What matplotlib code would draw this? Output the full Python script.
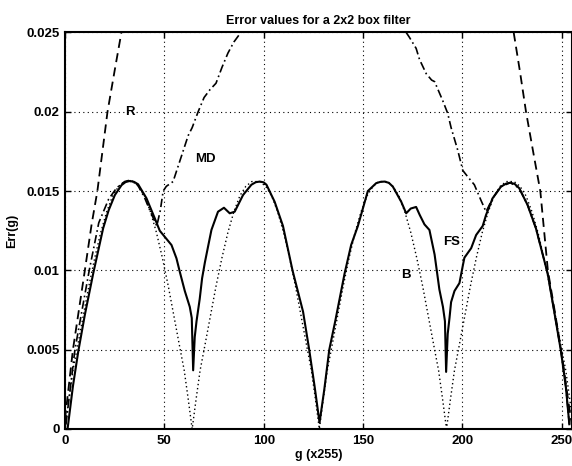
import numpy as np
import matplotlib
matplotlib.use("Agg")
import matplotlib.pyplot as plt

nan = np.nan

# FS curve (solid)
fs_g = [1.3, 4, 6.7, 10, 14.2, 19.2, 22, 25.1, 28.5, 30.5, 32.7, 34.8, 36.8, 41, 45.2, 47.7, 50,
        53.6, 56.1, 57.8, 60.3, 62.8, 63.8, 64.5, 65.3, 66.2, 67.8, 69, 70.4, 72, 73.7,
        77, 80, 82.9, 85.4, 89.6, 93.8, 96, 98, 100, 101.4, 105.5, 109.7, 114.5, 119.8, 122.9,
        125.6, 128.1, 130.5, 133, 136, 140.7, 144, 147.4, 152.4, 156.6, 158.7, 160.8, 163, 165,
        169.2, 171.7, 174, 176.7, 178.5, 180.9, 183.4, 186, 188.4, 190.2, 191.2, 191.8,
        192.6, 193.5, 194.3, 196, 198.5, 200.2, 201, 204.4, 206.9, 210.2, 211.9, 215.2,
        219.4, 222, 224.1, 226.3, 228.6, 232.8, 237, 240, 242.9, 246.2, 249.6, 252.1, 253.8]
fs_v = [0.0, 0.0027, 0.0049, 0.0072, 0.0098, 0.01265, 0.0138, 0.01475, 0.01538, 0.01557, 0.01564,
        0.01558, 0.01543, 0.01455, 0.01328, 0.0125, 0.01215, 0.0116, 0.01076, 0.0099, 0.0087,
        0.0077, 0.0070, 0.0037, 0.0058, 0.0068, 0.0082, 0.0095, 0.0105, 0.0115, 0.01255,
        0.0137, 0.01395, 0.0136, 0.0137, 0.01475, 0.0154, 0.01556, 0.0156, 0.01555, 0.0154,
        0.01433, 0.0128, 0.0100, 0.0074, 0.0050, 0.0027, 0.0004, 0.0025, 0.0050, 0.0068,
        0.0098, 0.0116, 0.0128, 0.0150, 0.0155, 0.01558, 0.0156, 0.01552, 0.01528, 0.01433,
        0.0136, 0.0139, 0.0140, 0.0135, 0.0129, 0.01255, 0.0110, 0.0088, 0.0077, 0.0068,
        0.0036, 0.0060, 0.0070, 0.0080, 0.0087, 0.0092, 0.0103, 0.0108, 0.0114, 0.01223,
        0.0128, 0.0135, 0.01455, 0.01528, 0.01547, 0.01553, 0.01545, 0.01518, 0.01412,
        0.01265, 0.0112, 0.0098, 0.0074, 0.0049, 0.0026, 0.0003]

# MD curve (dash-dot), leaves the top of the axes in the middle
md_g = [0.5, 5, 12.2, 17, 22, 26, 30, 33, 36.5, 40, 43, 46.2, 48, 49.4, 51, 54.4, 58.6,
        62, 64, 67, 70, 73, 76, 79, 82, 85, 88.5, nan,
        171.7, 173.3, 176.7, 178.4, 181.8, 184.5, 186, 190.1, 192.6, 194.3, 197.6, 200.2,
        202.7, 206, 209.4, 211.9, 215.2, 219.4, 224.1, 228.6, 232.8, 237, 240, 242.9,
        246.2, 249.6, 252.1, 253.8]
md_v = [0.0003, 0.0050, 0.0100, 0.0130, 0.0145, 0.0152, 0.0156, 0.0157, 0.0154, 0.0146,
        0.0137, 0.0128, 0.0138, 0.0150, 0.0153, 0.0156, 0.0172, 0.0185, 0.0190, 0.0200,
        0.0209, 0.0214, 0.0218, 0.0228, 0.0237, 0.0244, 0.0250, nan,
        0.0250, 0.0247, 0.0240, 0.0233, 0.0224, 0.0220, 0.0219, 0.0207, 0.0199, 0.0190,
        0.0176, 0.0163, 0.0159, 0.0154, 0.0144, 0.0137, 0.01455, 0.01528, 0.01553,
        0.01518, 0.01412, 0.01265, 0.0112, 0.0098, 0.0074, 0.0049, 0.0026, 0.0003]

# R curve (dashed)
r_g = [0, 4, 10, 13.4, 16.3, 21.4, 25, 28.4, nan,
       225.8, 229, 232, 236, 239.2, 243, 246.5, 250, 253, 255]
r_v = [0.0006, 0.0050, 0.0100, 0.0129, 0.0150, 0.0200, 0.0226, 0.0250, nan,
       0.0250, 0.0225, 0.0200, 0.0172, 0.0150, 0.0100, 0.0074, 0.0047, 0.0020, 0.0003]

# B curve (dotted)
b_g = [0, 2, 4, 6, 9, 12, 15, 18, 21, 24, 27, 30, 32, 34, 37, 40, 43, 46, 49, 52, 55, 58, 60, 62,
       64, 66, 68, 70, 73, 76, 79, 82, 85, 88, 91, 94, 96, 98, 101, 104, 107, 110, 113, 116, 119, 122, 124, 126,
       128, 130, 132, 134, 137, 140, 143, 146, 149, 152, 155, 158, 160, 162, 165, 168, 171, 174, 177, 180, 183, 186, 188, 190,
       192, 194, 196, 198, 201, 204, 207, 210, 213, 216, 219, 222, 224, 226, 229, 232, 235, 238, 241, 244, 247, 250, 252, 254, 255]
b_v = [0, 0.0019, 0.0037, 0.0050, 0.0070, 0.0090, 0.0108, 0.0124, 0.0137, 0.0147, 0.0153, 0.0156,
       0.0156, 0.0156, 0.0153, 0.0147, 0.0137, 0.0124, 0.0108, 0.0090, 0.0070, 0.0050, 0.0037, 0.0019,
       0, 0.0019, 0.0037, 0.0050, 0.0070, 0.0090, 0.0108, 0.0124, 0.0137, 0.0147, 0.0153, 0.0156,
       0.0156, 0.0156, 0.0153, 0.0147, 0.0137, 0.0124, 0.0108, 0.0090, 0.0070, 0.0050, 0.0037, 0.0019,
       0, 0.0019, 0.0037, 0.0050, 0.0070, 0.0090, 0.0108, 0.0124, 0.0137, 0.0147, 0.0153, 0.0156,
       0.0156, 0.0156, 0.0153, 0.0147, 0.0137, 0.0124, 0.0108, 0.0090, 0.0070, 0.0050, 0.0037, 0.0019,
       0, 0.0019, 0.0037, 0.0050, 0.0070, 0.0090, 0.0108, 0.0124, 0.0137, 0.0147, 0.0153, 0.0156,
       0.0156, 0.0156, 0.0153, 0.0147, 0.0137, 0.0124, 0.0108, 0.0090, 0.0070, 0.0050, 0.0037, 0.0019, 0.0009]

x_ticks = [0, 50, 100, 150, 200, 250]
y_ticks = [0, 0.005, 0.01, 0.015, 0.02, 0.025]
y_tick_labels = ["0", "0.005", "0.01", "0.015", "0.02", "0.025"]

plt.rcParams['font.family'] = ['Liberation Sans', 'DejaVu Sans']
plt.rcParams['font.weight'] = 'bold'

fig = plt.figure(figsize=(5.72, 4.66), dpi=100)
ax = fig.add_axes([0.1136, 0.0794, 0.8859, 0.8509])

ax.plot(b_g, b_v, color='black', linestyle=(0, (1, 2)), linewidth=1.0)
ax.plot(r_g, r_v, color='black', linestyle=(0, (5, 3)), linewidth=1.3)
ax.plot(md_g, md_v, color='black', linestyle=(0, (5, 2, 1, 2)), linewidth=1.2)
ax.plot(fs_g, fs_v, color='black', linestyle='-', linewidth=1.5)

ax.text(32.5, 0.0200, "R", ha='center', va='center', fontsize=9.5, fontweight='bold')
ax.text(70.4, 0.0170, "MD", ha='center', va='center', fontsize=9.5, fontweight='bold')
ax.text(194.3, 0.0118, "FS", ha='center', va='center', fontsize=9.5, fontweight='bold')
ax.text(171.7, 0.0097, "B", ha='center', va='center', fontsize=9.5, fontweight='bold')

ax.set_xlim(0, 255)
ax.set_ylim(0, 0.025)
ax.set_xticks(x_ticks)
ax.set_yticks(y_ticks)
ax.set_yticklabels(y_tick_labels)
ax.tick_params(direction='in', top=True, right=True, labelsize=9.5, length=4, width=1, pad=4)
ax.grid(True, color='black', linestyle=(0, (1, 3)), linewidth=0.8)
for s in ax.spines.values():
    s.set_linewidth(1.5)

ax.set_title("Error values for a 2x2 box filter", fontsize=9, fontweight='bold', pad=6)
ax.set_xlabel("g (x255)", fontsize=9, fontweight='bold', labelpad=2)
ax.set_ylabel("Err(g)", fontsize=9, fontweight='bold', labelpad=6)

fig.savefig("out.png", dpi=100)
